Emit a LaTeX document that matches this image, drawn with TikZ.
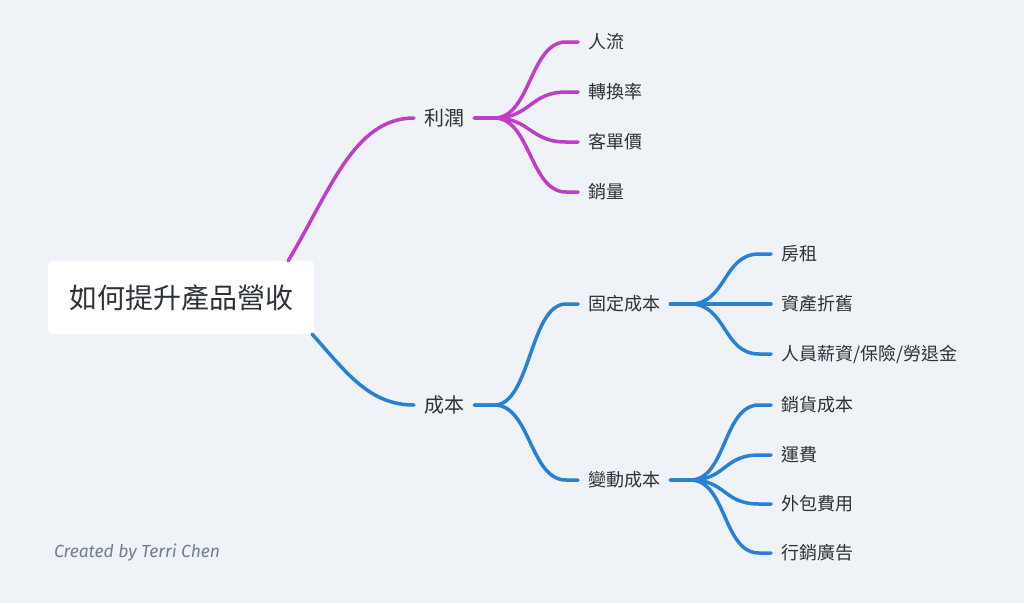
\documentclass[tikz,border=0pt]{standalone}
\usepackage{fontspec}
\setmainfont{Noto Sans CJK TC}
\newfontfamily\creditfont{Fira Sans}
\usetikzlibrary{calc}
\definecolor{bgcol}{RGB}{239,242,246}
\definecolor{txtcol}{RGB}{44,50,56}
\definecolor{purp}{RGB}{190,62,202}
\definecolor{blu}{RGB}{42,128,210}
\definecolor{creditcol}{RGB}{112,126,142}

\begin{document}
\begin{tikzpicture}[x=1pt,y=-1pt,font=\fontsize{18}{20}\selectfont,text=txtcol]
\tikzstyle{lbl}=[anchor=west,inner xsep=10pt,inner ysep=2pt]
\tikzstyle{mid}=[lbl,font=\fontsize{20}{22}\selectfont]
\tikzstyle{wire}=[line width=3.5pt,line cap=round]
\tikzstyle{br}=[wire,to path={-- ++(20,0) .. controls +(36,0) and +(-36,0) .. ($(\tikztotarget)+(-12,0)$) -- (\tikztotarget)}]
\fill[bgcol] (0,0) rectangle (1024,603);
% root and first level
\node[fill=white,rounded corners=4pt,minimum width=266pt,minimum height=73pt,font=\fontsize{28}{30}\selectfont] (root) at (181,297.5) {如何提升產品營收};
\node[mid] (profit) at (414,118) {利潤};
\node[mid] (cost) at (414,405) {成本};
\node[lbl] (fixed) at (578,304) {固定成本};
\node[lbl] (vari) at (578,480) {變動成本};
% leaves
\foreach \n/\y/\t in {p1/42/人流,p2/92/轉換率,p3/142/客單價,p4/192/銷量} \node[lbl] (\n) at (578,\y) {\t};
\foreach \n/\y/\t in {f1/254/房租,f2/304/資產折舊,f3/354/{人員薪資/保險/勞退金}} \node[lbl] (\n) at (771,\y) {\t};
\foreach \n/\y/\t in {v1/405/銷貨成本,v2/455/運費,v3/504/外包費用,v4/553/行銷廣告} \node[lbl] (\n) at (771,\y) {\t};
\node[anchor=west,inner sep=0pt,text=creditcol,font=\creditfont\itshape\fontsize{17.5}{20}\selectfont] (credit) at (54,553) {Created by Terri Chen};
% connectors
\draw[wire,purp] ($(root.north east)+(-26,0)$) .. controls +(42,-70) and +(-60,0) .. (profit.west);
\draw[wire,blu] ($(root.south east)+(-2,0)$) .. controls +(34,38) and +(-45,0) .. (cost.west);
\foreach \n in {p1,p2,p3,p4} \draw[br,purp] (profit.east) to (\n.west);
\foreach \n in {fixed,vari} \draw[br,blu] (cost.east) to (\n.west);
\foreach \n in {f1,f2,f3} \draw[br,blu] (fixed.east) to (\n.west);
\foreach \n in {v1,v2,v3,v4} \draw[br,blu] (vari.east) to (\n.west);
\end{tikzpicture}
\end{document}
